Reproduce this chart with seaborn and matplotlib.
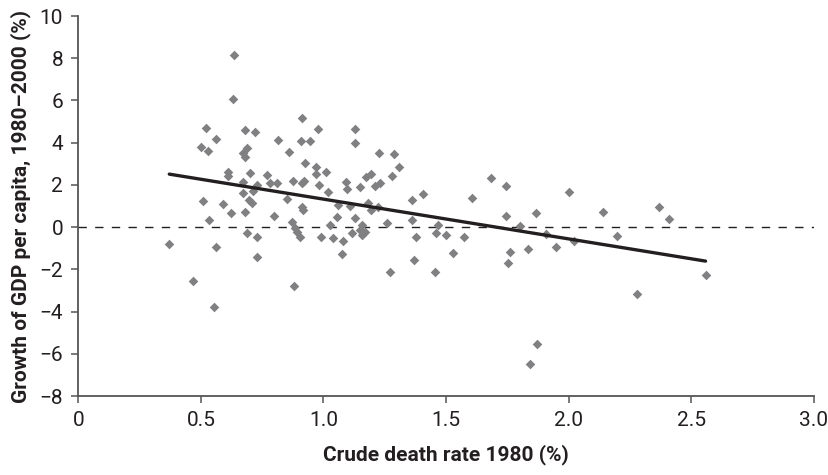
import matplotlib
matplotlib.use("Agg")
import matplotlib.pyplot as plt
import seaborn as sns
import pandas as pd

death_rate = [0.634, 0.630, 0.52, 0.56, 0.499, 0.53, 0.679, 0.72, 0.687, 0.673,
              0.68, 0.813, 0.859, 0.914, 0.979, 0.908, 0.946, 0.925, 0.968, 1.009,
              0.968, 0.609, 0.609, 0.70, 0.768, 0.809, 0.782, 0.670, 0.730, 0.877,
              0.911, 0.92, 0.983, 1.09, 1.02, 1.095, 0.671, 0.714, 0.507, 0.589,
              0.623, 0.68, 0.697, 0.707, 0.85, 0.911, 0.918, 1.06, 0.80, 0.534,
              1.054, 0.870, 0.884, 0.904, 0.891, 1.026, 0.687, 0.73, 0.989, 1.037,
              1.08, 0.37, 0.562, 0.73, 1.077, 0.469, 0.88, 0.555, 1.128, 1.128,
              1.226, 1.289, 1.308, 1.281, 1.196, 1.174, 1.149, 1.23, 1.21, 1.108,
              1.183, 1.196, 1.223, 1.128, 1.258, 1.156, 1.149, 1.168, 1.156, 1.115,
              1.36, 1.405, 1.36, 1.378, 1.468, 1.458, 1.50, 1.574, 1.53, 1.37,
              1.271, 1.455, 1.608, 1.683, 1.743, 1.743, 1.80, 1.761, 1.751, 1.833,
              1.869, 1.906, 1.947, 2.001, 2.022, 2.139, 2.196, 2.367, 2.408, 2.56,
              2.279, 1.872, 1.842]
gdp_growth = [8.14, 6.08, 4.68, 4.19, 3.81, 3.62, 4.60, 4.49, 3.73, 3.50,
              3.33, 4.13, 3.54, 5.15, 4.65, 4.08, 4.08, 3.05, 2.86, 2.62,
              2.51, 2.63, 2.42, 2.58, 2.47, 2.10, 2.10, 2.15, 1.99, 2.18,
              2.10, 2.20, 1.99, 2.12, 1.68, 1.82, 1.60, 1.72, 1.24, 1.09,
              0.65, 0.73, 1.28, 1.13, 1.32, 0.97, 0.81, 1.05, 0.53, 0.34,
              0.49, 0.26, -0.06, -0.45, -0.22, 0.12, -0.29, -0.48, -0.48, -0.53,
              -0.66, -0.82, -0.96, -1.43, -1.25, -2.54, -2.79, -3.80, 4.65, 3.97,
              3.50, 3.45, 2.86, 2.42, 2.51, 2.39, 1.88, 2.07, 1.95, 1.00,
              1.13, 0.81, 0.97, 0.42, 0.21, 0.10, -0.14, -0.22, -0.37, -0.26,
              1.28, 1.55, 0.34, -0.45, 0.10, -0.29, -0.37, -0.45, -1.24, -1.56,
              -2.11, -2.11, 1.39, 2.34, 1.96, 0.53, 0.03, -1.16, -1.72, -1.04,
              0.68, -0.33, -0.93, 1.68, -0.66, 0.70, -0.42, 0.97, 0.38, -2.27,
              -3.17, -5.55, -6.50]

trend_x = [0.371, 2.559]
trend_y = [2.51, -1.61]

x_ticks = [0, 0.5, 1.0, 1.5, 2.0, 2.5, 3.0]
x_tick_labels = ["0", "0.5", "1.0", "1.5", "2.0", "2.5", "3.0"]
y_ticks = [-8, -6, -4, -2, 0, 2, 4, 6, 8, 10]
y_tick_labels = ["\u22128", "\u22126", "\u22124", "\u22122", "0", "2", "4", "6", "8", "10"]

sns.set_theme(style="white")
plt.rcParams["font.family"] = ["Liberation Sans Narrow", "Roboto", "DejaVu Sans"]

df = pd.DataFrame({"death": death_rate, "growth": gdp_growth})
trend = pd.DataFrame({"x": trend_x, "y": trend_y})

fig = plt.figure(figsize=(8.29, 4.75), dpi=100)
ax = fig.add_axes([0.0945, 0.1663, 0.887, 0.8])

ax.axhline(0, color="#231f20", lw=1.0, dashes=(6, 6), zorder=1)
sns.scatterplot(data=df, x="death", y="growth", marker="D", s=24,
                color="#808083", linewidth=0, ax=ax, zorder=2)
sns.lineplot(data=trend, x="x", y="y", color="#231f20", lw=2.4, ax=ax, zorder=3)

ax.set_xlim(0, 3.0)
ax.set_ylim(-8, 10)
ax.set_xticks(x_ticks)
ax.set_xticklabels(x_tick_labels)
ax.set_yticks(y_ticks)
ax.set_yticklabels(y_tick_labels)

for side in ["top", "right"]:
    ax.spines[side].set_visible(False)
for side in ["left", "bottom"]:
    ax.spines[side].set_color("#555555")
    ax.spines[side].set_linewidth(1.3)

ax.tick_params(axis="both", which="major", direction="out", length=5, width=1.1,
               color="#555555", labelsize=15, labelcolor="#231f20", pad=6,
               left=True, bottom=True)

ax.set_xlabel("Crude death rate 1980 (%)", fontsize=15, fontweight="bold",
              color="#231f20", labelpad=10)
ax.set_ylabel("Growth of GDP per capita, 1980\u20132000 (%)", fontsize=15,
              fontweight="bold", color="#231f20", labelpad=6)

fig.savefig("out.png", dpi=100)
